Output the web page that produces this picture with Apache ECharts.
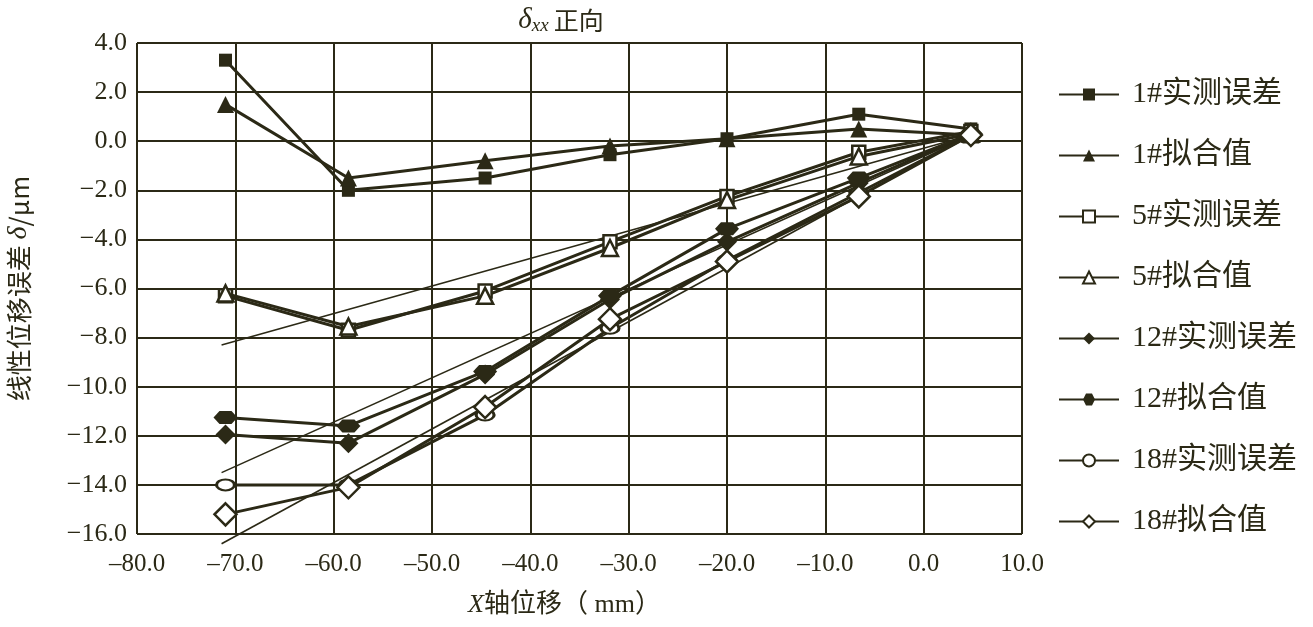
<!DOCTYPE html>
<html>
<head>
<meta charset="utf-8">
<script src="https://cdn.jsdelivr.net/npm/echarts@6/dist/echarts.min.js"></script>
<style>html,body{margin:0;padding:0;background:#fff;}#c{width:1313px;height:627px;}</style>
</head>
<body>
<div id="c"></div>
<script>
// ---- data ----
const xVals = [-71.0, -58.5, -44.6, -31.9, -20.0, -6.6, 4.8];
const seriesNames = ['1#实测误差', '1#拟合值', '5#实测误差', '5#拟合值', '12#实测误差', '12#拟合值', '18#实测误差', '18#拟合值'];
const s1m  = [3.3, -2.0, -1.5, -0.55, 0.1, 1.1, 0.5];
const s1f  = [1.5, -1.5, -0.8, -0.2, 0.1, 0.5, 0.25];
const s5m  = [-6.3, -7.7, -6.1, -4.1, -2.25, -0.45, 0.4];
const s5f  = [-6.2, -7.55, -6.3, -4.35, -2.4, -0.62, 0.3];
const s12m = [-11.95, -12.3, -9.5, -6.45, -4.1, -1.7, 0.3];
const s12f = [-11.25, -11.6, -9.38, -6.3, -3.57, -1.5, 0.3];
const s18m = [-14.0, -14.0, -11.15, -7.62, -4.85, -2.1, 0.25];
const s18f = [-15.2, -14.1, -10.83, -7.25, -4.9, -2.25, 0.25];
// thin straight trend lines: [x, y] start and end
const trendX = [-71.4, 4.8];
const trend1 = [-8.3, 0.25];
const trend2 = [-13.5, 0.25];
const trend3 = [-16.4, 0.25];
const xTicks = [-80, -70, -60, -50, -40, -30, -20, -10, 0, 10];
const yTicks = [4, 2, 0, -2, -4, -6, -8, -10, -12, -14, -16];

const C = '#2b2916';
const pair = (ys) => xVals.map((x, i) => [x, ys[i]]);
const tpair = (ys) => trendX.map((x, i) => [x, ys[i]]);

const ellipse = 'path://M0,5 A10,5 0 1,0 20,5 A10,5 0 1,0 0,5 Z';
const spindle = 'path://M0,5 L5,1 L15,1 L20,5 L15,9 L5,9 Z';

function mk(name, data, symbol, size, filled) {
  return {
    name, type: 'line', data: pair(data), symbol, symbolSize: size,
    lineStyle: { color: C, width: 3 },
    itemStyle: filled ? { color: C } : { color: '#fff', borderColor: C, borderWidth: 2.5 },
    emphasis: { disabled: true }, animation: false, z: 3
  };
}
function tl(data) {
  return {
    type: 'line', data: tpair(data), symbol: 'none', clip: false,
    lineStyle: { color: C, width: 1.6 }, emphasis: { disabled: true }, animation: false, z: 2
  };
}

const serif = "'Liberation Serif', 'DejaVu Serif', 'Noto Sans CJK SC', serif";
const minus = (v) => (v < 0 ? '−' + Math.abs(v).toFixed(1) : v.toFixed(1));

const option = {
  backgroundColor: '#fff',
  title: {
    text: '{d|δ}{s|xx} {c|正向}',
    left: 556, top: 1, textAlign: 'center',
    textStyle: {
      fontWeight: 'normal',
      rich: {
        d: { fontFamily: serif, fontStyle: 'italic', fontWeight: 'normal', fontSize: 29, color: C },
        s: { fontFamily: serif, fontStyle: 'italic', fontWeight: 'normal', fontSize: 19, color: C, padding: [10, 0, 0, 0] },
        c: { fontFamily: "'Noto Sans CJK SC', sans-serif", fontWeight: 'normal', fontSize: 25, color: C }
      }
    }
  },
  grid: { left: 137, right: 291, top: 43, bottom: 93, containLabel: false, outerBoundsMode: 'none' },
  legend: {
    orient: 'vertical', left: 1053, top: 74,
    itemWidth: 60, itemHeight: 15, itemGap: 30,
    data: seriesNames,
    textStyle: { fontFamily: serif, fontSize: 30, color: C, lineHeight: 31, padding: [0, 0, 0, 8] }
  },
  xAxis: {
    type: 'value', min: -80, max: 10, interval: 10,
    name: '{i|X}轴位移（ mm）', nameLocation: 'middle', nameGap: 58,
    nameTextStyle: {
      fontFamily: serif, fontSize: 26, color: C, padding: [0, 30, 0, 0],
      rich: { i: { fontFamily: serif, fontStyle: 'italic', fontSize: 26, color: C } }
    },
    axisLine: { lineStyle: { color: C, width: 2 } },
    axisTick: { show: false },
    splitLine: { show: true, lineStyle: { color: C, width: 2 } },
    axisLabel: {
      fontFamily: serif, fontSize: 25, color: C, margin: 18,
      formatter: (v) => (v < 0 ? '–' + Math.abs(v).toFixed(1) : v.toFixed(1))
    }
  },
  yAxis: {
    type: 'value', min: -16, max: 4, interval: 2,
    name: '线性位移误差 {i|δ}/μm', nameLocation: 'middle', nameGap: 104,
    nameTextStyle: {
      fontFamily: "'Noto Sans CJK SC', sans-serif", fontSize: 26, color: C,
      rich: { i: { fontFamily: serif, fontStyle: 'italic', fontSize: 28, color: C } }
    },
    axisLine: { show: true, lineStyle: { color: C, width: 2 } },
    axisTick: { show: false },
    splitLine: { show: true, lineStyle: { color: C, width: 2 } },
    axisLabel: { fontFamily: serif, fontSize: 26, color: C, margin: 10, formatter: minus }
  },
  series: [
    tl(trend1), tl(trend2), tl(trend3),
    mk(seriesNames[0], s1m, 'rect', 13, true),
    mk(seriesNames[1], s1f, 'triangle', 17, true),
    mk(seriesNames[2], s5m, 'rect', 13, false),
    mk(seriesNames[3], s5f, 'triangle', 16, false),
    mk(seriesNames[4], s12m, 'diamond', 20, true),
    mk(seriesNames[5], s12f, spindle, [24, 13], true),
    mk(seriesNames[6], s18m, ellipse, [18, 11], false),
    mk(seriesNames[7], s18f, 'diamond', 22, false)
  ]
};
const chart = echarts.init(document.getElementById('c'), null, { renderer: 'canvas' });
chart.setOption(option);
</script>
</body>
</html>
